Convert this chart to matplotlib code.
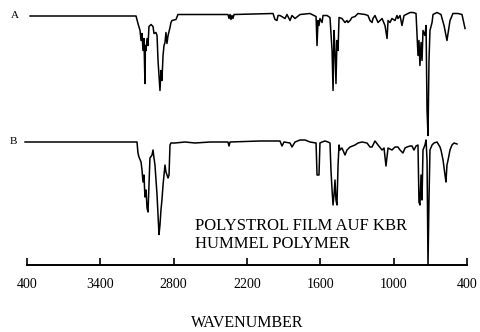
import matplotlib.pyplot as plt
import numpy as np

plt.rcParams['font.family'] = ['Liberation Serif', 'DejaVu Serif']

# spectrum A (film), wavenumber in 1/cm and transmittance in %
wn_a = [3975, 3108, 3092, 3075, 3067, 3059, 3051, 3043, 3035, 3031, 3026, 3018,
        3010, 3002, 2985, 2969, 2961, 2945, 2936, 2928, 2920, 2912, 2904, 2896,
        2887, 2879, 2871, 2863, 2855, 2846, 2830, 2822, 2814, 2781, 2765, 2356,
        2347, 2339, 2331, 2323, 2315, 2306, 1987, 1971, 1955, 1946, 1930, 1889,
        1873, 1848, 1832, 1807, 1766, 1685, 1635, 1627, 1619, 1611, 1603, 1586,
        1578, 1545, 1521, 1504, 1496, 1488, 1480, 1472, 1464, 1455, 1447, 1423,
        1398, 1382, 1374, 1357, 1341, 1316, 1292, 1234, 1210, 1194, 1177, 1169,
        1153, 1128, 1095, 1071, 1054, 1046, 1030, 1014, 989, 973, 965, 948,
        932, 915, 866, 842, 817, 801, 793, 785, 776, 768, 760, 744, 735, 727,
        719, 711, 703, 686, 678, 645, 613, 588, 564, 539, 515, 474, 441, 416]
t_a = [97.2, 97.2, 91.2, 85.6, 77.6, 83.2, 69.6, 79.2, 43.2, 73.6, 69.6, 79.2,
       73.6, 88.8, 90.4, 88.8, 83.2, 84.0, 81.6, 61.6, 49.6, 37.6, 53.6, 45.6,
       65.6, 73.6, 76.0, 84.0, 75.2, 81.6, 88.0, 92.0, 93.6, 94.4, 98.4, 98.4,
       95.2, 98.4, 94.4, 97.6, 95.2, 98.4, 99.2, 94.4, 93.6, 97.6, 97.6, 95.2,
       98.4, 93.6, 97.6, 95.2, 98.4, 99.2, 96.8, 73.6, 93.6, 89.6, 95.2, 92.0,
       97.6, 97.6, 96.0, 69.6, 37.6, 85.6, 69.6, 43.2, 77.6, 69.6, 96.0, 95.2,
       92.0, 93.6, 92.0, 93.6, 96.0, 96.8, 99.2, 98.4, 97.6, 93.6, 92.0, 95.2,
       97.6, 92.0, 95.2, 89.6, 79.2, 93.6, 92.0, 95.2, 93.6, 97.6, 95.2, 97.6,
       89.6, 97.6, 100.0, 100.0, 99.2, 65.6, 77.6, 57.6, 76.0, 61.6, 85.6, 81.6, 89.6, 21.6,
       1.6, 61.6, 85.6, 92.0, 98.4, 100.0, 98.4, 89.6, 77.6, 93.6, 99.2, 99.2, 98.4, 87.2]

# spectrum B
wn_b = [4016, 3100, 3092, 3084, 3067, 3059, 3051, 3043, 3035, 3026, 3018, 3010,
        3002, 2994, 2977, 2969, 2961, 2953, 2936, 2928, 2920, 2912, 2904, 2896,
        2887, 2879, 2871, 2863, 2846, 2838, 2830, 2822, 2789, 2707, 2625, 2503,
        2356, 2347, 2339, 2094, 1930, 1914, 1897, 1848, 1832, 1807, 1766, 1725,
        1685, 1635, 1627, 1611, 1603, 1586, 1562, 1537, 1521, 1513, 1504, 1496,
        1488, 1480, 1472, 1464, 1455, 1447, 1439, 1423, 1398, 1382, 1357, 1316,
        1292, 1259, 1218, 1194, 1177, 1153, 1128, 1095, 1079, 1063, 1046, 1014,
        989, 965, 948, 924, 907, 891, 866, 850, 834, 817, 801, 793, 785, 776,
        768, 760, 744, 735, 727, 719, 711, 703, 686, 670, 645, 621, 613, 596,
        580, 572, 564, 555, 539, 523, 506, 482]
t_b = [98.4, 98.4, 89.6, 86.4, 82.4, 76.0, 66.4, 72.0, 54.4, 60.0, 45.6, 42.4,
       64.0, 85.6, 88.0, 92.0, 85.6, 80.0, 56.0, 40.0, 24.4, 32.0, 44.0, 52.0,
       64.0, 72.0, 80.0, 74.4, 69.6, 72.0, 96.0, 97.6, 97.6, 98.4, 97.6, 98.4,
       98.4, 95.2, 98.4, 99.2, 99.2, 95.2, 98.4, 97.6, 94.4, 98.4, 100.0, 100.0,
       98.4, 97.6, 72.0, 72.0, 97.6, 98.4, 99.2, 98.4, 97.6, 76.0, 60.0, 48.0,
       56.0, 68.0, 52.0, 48.0, 80.0, 96.0, 92.0, 93.6, 88.0, 92.0, 94.4, 96.0,
       97.6, 98.4, 97.6, 94.4, 94.4, 99.2, 96.0, 92.0, 93.6, 79.2, 93.6, 92.0,
       94.4, 94.4, 92.0, 89.6, 93.6, 94.4, 95.2, 95.2, 92.0, 95.2, 96.0, 50.4, 48.0, 72.0,
       52.0, 92.0, 96.0, 100.0, 84.0, 0.0, 52.0, 92.0, 96.0, 97.6, 98.4, 94.4, 92.0, 84.0,
       72.0, 66.4, 80.0, 84.0, 92.0, 96.0, 97.6, 96.8]

tick_pos = [4000, 3400, 2800, 2200, 1600, 1000, 400]
tick_lab = ["400", "3400", "2800", "2200", "1600", "1000", "400"]
offset_a = 102

fig = plt.figure(figsize=(4.81, 3.32), dpi=100)
ax = fig.add_axes([27 / 481, 67 / 332, 440 / 481, 265 / 332])
ax.set_xlim(4000, 400)
ax.set_ylim(0, 212)

ax.plot(wn_a, np.array(t_a) + offset_a, color='black', lw=1.1, clip_on=False)
ax.plot(wn_b, t_b, color='black', lw=1.1, clip_on=False)

for s in ['top', 'left', 'right']:
    ax.spines[s].set_visible(False)
ax.spines['bottom'].set_linewidth(1.4)
ax.set_yticks([])
ax.set_xticks(tick_pos)
ax.set_xticklabels(tick_lab)
ax.tick_params(axis='x', direction='in', length=5, width=1.2, pad=9, labelsize=10)

fig.text(15 / 481, 1 - 16 / 332, "A", fontsize=8, ha='center', va='center')
fig.text(13 / 481, 1 - 142 / 332, "B", fontsize=8, ha='center', va='center')
fig.text(195 / 481, 1 - 230 / 332, "POLYSTROL FILM AUF KBR", fontsize=12, va='baseline')
fig.text(195 / 481, 1 - 248 / 332, "HUMMEL POLYMER", fontsize=12, va='baseline')
fig.text(247 / 481, 1 / 332, "WAVENUMBER", fontsize=11.5, ha='center', va='bottom')

fig.savefig("out.png", dpi=100)
